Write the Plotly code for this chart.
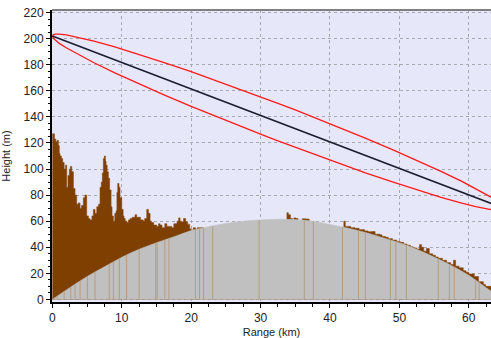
import numpy as np
import plotly.graph_objects as go

# --- earth bulge (grey): km, m
bulge_km = [0, 2.5, 5, 7.5, 10, 12.5, 15, 17.5, 20, 22.5, 25, 27.5, 30, 32.5, 35,
            37.5, 40, 42.5, 45, 47.5, 50, 52.5, 55, 57.5, 60, 62.5, 65]
bulge_m = [0, 9, 17.5, 25, 32.3, 38.5, 43.5, 48, 52.8, 55.8, 58.3, 60, 61, 61.5, 61.2,
           60, 57.5, 54.8, 51.5, 47.5, 43.5, 38.5, 32.5, 26, 18.5, 9, 0]

# --- terrain top (brown): km, m
terrain_km = [0.0, 0.15, 0.3, 0.5, 0.7, 0.87, 1.0, 1.11, 1.3, 1.49, 1.7, 1.9, 2.07, 2.25,
              2.45, 2.6, 2.8, 3.03, 3.27, 3.51, 3.75, 3.99, 4.2, 4.47, 4.7, 4.95, 5.2,
              5.43, 5.7, 5.91, 6.15, 6.4, 6.65, 6.87, 7.05, 7.2, 7.35, 7.5, 7.65, 7.74,
              7.9, 8.07, 8.25, 8.46, 8.6, 8.79, 9.0, 9.18, 9.3, 9.42, 9.6, 9.75, 10.0,
              10.2, 10.33, 10.5, 10.72, 10.95, 11.2, 11.5, 11.92, 12.15, 12.4, 12.7,
              13.1, 13.3, 13.6, 13.85, 14.08, 14.3, 14.6, 15.04, 15.3, 15.52, 15.8,
              16.2, 16.5, 16.96, 17.2, 17.5, 17.96, 18.2, 18.4, 18.6, 18.9, 19.2, 19.5,
              19.8, 20.0, 20.3, 20.6, 20.9, 21.2, 21.5, 21.8, 22.0,
              33.8, 34.0, 34.3, 34.6, 34.8, 35.1, 35.4, 36.0, 36.5, 37.0,
              42.0, 42.2, 43.0, 43.6, 44.2, 45.0, 45.5, 46.0, 46.5, 47.2, 47.5, 48.0,
              48.4, 49.0, 49.6, 50.1, 50.6, 51.1, 51.6, 52.0, 52.5, 52.9, 53.2, 53.5,
              53.9, 54.3, 54.8, 55.2, 55.6, 56.2, 56.8, 57.4, 57.8, 58.1, 58.6, 59.2,
              59.6, 60.0, 60.8, 61.4, 62.1, 62.4, 63.2, 65.0]
terrain_m = [127, 127, 123, 121, 122, 118, 112, 110, 108, 105, 100, 103, 86, 95,
             100, 102, 98, 85, 80, 73, 74, 70, 72, 78, 80, 64, 62,
             61, 64, 69, 66, 71, 73, 86, 90, 97, 108, 110, 106, 103,
             98, 93, 84, 71, 64, 60, 66, 68, 82, 89, 86, 78, 69,
             64, 62, 60, 59, 61, 62, 63, 65, 63, 63, 61,
             60, 62, 69, 66, 60, 59, 57, 56, 58, 57, 55,
             58, 56, 56, 55, 58, 60, 62.5, 60, 59.5, 62, 59.5, 57.5,
             54, 53, 55, 54, 55, 55, 55, 54, 0,
             66.5, 65, 62, 0, 62.5, 62, 0, 61.8, 61.6, 0,
             60, 56, 55, 54.5, 53.5, 52.5, 51.8, 52, 50, 49.5, 48.3, 47.6,
             46.6, 45.5, 44.5, 43.8, 42.5, 41.5, 40.3, 39.5, 38.6, 42, 40, 37,
             39, 35, 33.8, 32.5, 31.5, 30, 28.2, 26.8, 30, 25.5, 24.2, 22,
             20.8, 19.5, 17.5, 13.5, 11.5, 10, 8, 0]

# --- light vertical streaks through the grey (km)
streak_km = [0.7, 1.7, 2.65, 3.27, 4.0, 5.05, 6.15, 8.2, 8.8, 9.65, 10.7, 12.5, 14.9,
             15.1, 16.2, 16.8, 20.6, 21.2, 21.8, 23.1, 29.8, 36.3, 37.6, 41.8, 44.1,
             45.1, 48.7, 49.5, 51.0, 55.6, 57.2, 57.9, 61.0, 61.5]

# --- path line and Fresnel zone (km, m)
path_km = [0, 65]
path_m = [202, 70]
fresnel_km = [0, 0.15, 0.5, 1, 2, 4, 6, 9, 12, 16, 20, 25, 30, 32.5, 35, 40, 45, 49,
              53, 56, 59, 61, 63, 64, 64.5, 65]
fresnel_up = [202, 203.1, 203.5, 203.5, 202.9, 200.8, 198.2, 193.7, 188.8, 181.9, 174.7,
              165.2, 155.4, 150.4, 145.3, 134.8, 123.9, 114.9, 105.5, 98.2, 90.5, 85.0,
              79.0, 75.6, 73.5, 70]
fresnel_lo = [202, 200.3, 198.5, 196.4, 193.0, 187.0, 181.5, 173.8, 166.5, 157.1, 148.1,
              137.2, 126.7, 121.6, 116.6, 106.8, 97.3, 90.1, 83.2, 78.3, 73.8, 71.2,
              69.1, 68.5, 68.5, 70]

x_ticks = [0, 10, 20, 30, 40, 50, 60]
y_ticks = [0, 20, 40, 60, 80, 100, 120, 140, 160, 180, 200, 220]

fig = go.Figure()

fig.add_trace(go.Scatter(x=terrain_km, y=terrain_m, mode="lines", line_shape="hv",
                         line=dict(color="#8A4A10", width=0.6), fill="tozeroy",
                         fillcolor="#7E3F00", hoverinfo="skip", showlegend=False))
fig.add_trace(go.Scatter(x=bulge_km, y=bulge_m, mode="lines", line_shape="spline",
                         line=dict(color="#C0C0C0", width=0.5), fill="tozeroy",
                         fillcolor="#C0C0C0", hoverinfo="skip", showlegend=False))
streak_h = np.interp(streak_km, bulge_km, bulge_m)
sx, sy = [], []
for k, h in zip(streak_km, streak_h):
    sx += [k, k, None]
    sy += [0, float(h), None]
fig.add_trace(go.Scatter(x=sx, y=sy, mode="lines", line=dict(color="#B49C82", width=1),
                         hoverinfo="skip", showlegend=False))

fig.add_trace(go.Scatter(x=fresnel_km + fresnel_km[::-1], y=fresnel_up + fresnel_lo[::-1],
                         mode="lines", line=dict(color="#FF1A1A", width=1.3),
                         hoverinfo="skip", showlegend=False))
fig.add_trace(go.Scatter(x=path_km, y=path_m, mode="lines",
                         line=dict(color="#1C1C30", width=1.5),
                         hoverinfo="skip", showlegend=False))

font = "Liberation Sans, Arial, sans-serif"
fig.update_layout(
    width=491, height=338,
    margin=dict(l=52, r=0, t=10, b=36),
    paper_bgcolor="white", plot_bgcolor="#E6E8FA",
    font=dict(family=font, size=12, color="#222222"),
    xaxis=dict(range=[-0.05, 63.2], tickvals=x_ticks, showgrid=True,
               gridcolor="#A8A8B0", griddash="dot", gridwidth=1,
               showline=True, linecolor="black", linewidth=2, zeroline=False,
               ticks="outside", ticklen=4, tickcolor="black", tickwidth=1,
               minor=dict(dtick=2.5, ticks="outside", ticklen=3, tickcolor="black",
                          showgrid=False),
               title=dict(text="Range (km)", font=dict(size=11), standoff=4),
               tickfont=dict(size=12)),
    yaxis=dict(range=[-2, 222], tickvals=y_ticks, showgrid=True,
               gridcolor="#A8A8B0", griddash="dot", gridwidth=1,
               showline=True, linecolor="black", linewidth=2, zeroline=False,
               ticks="outside", ticklen=4, tickcolor="black", tickwidth=1,
               minor=dict(dtick=5, ticks="outside", ticklen=2, tickcolor="black",
                          showgrid=False),
               title=dict(text="Height (m)", font=dict(size=11), standoff=11),
               tickfont=dict(size=12)),
    shapes=[dict(type="line", xref="paper", yref="paper", x0=0, x1=1, y0=1, y1=1,
                 line=dict(color="#808080", width=2))],
)

fig.write_html("out.html")
